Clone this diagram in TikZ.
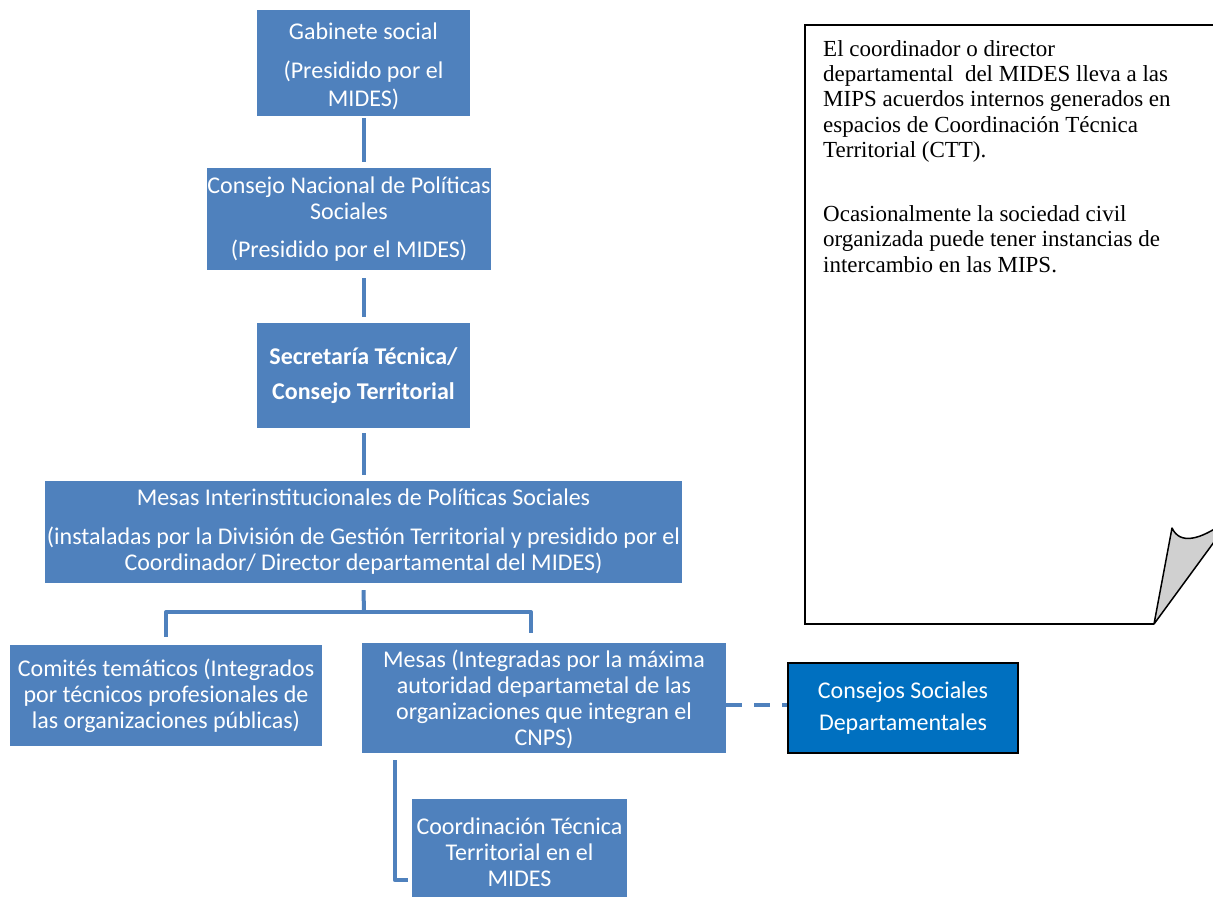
\documentclass[tikz,border=0pt]{standalone}
\usepackage{fontspec}
\newfontfamily\calfont{Carlito}
\newfontfamily\tmsfont{Liberation Serif}
\definecolor{boxblue}{HTML}{4F81BD}
\definecolor{deepblue}{HTML}{0070C0}
\definecolor{curlgray}{HTML}{D0D0D0}
\tikzset{
  bluebox/.style={fill=boxblue, text=white, align=center, inner sep=0pt,
    font=\calfont\fontsize{24}{26}\selectfont},
  conn/.style={draw=boxblue, line width=4pt},
  dashconn/.style={draw=boxblue, line width=4pt, dash pattern=on 16pt off 12pt},
}
\begin{document}
\begin{tikzpicture}[x=1pt,y=-1pt]
\path[use as bounding box] (0,0) rectangle (1213,898);
\clip (0,0) rectangle (1213,898);
\fill[white] (0,0) rectangle (1213,898);

% note box with folded corner
\draw[black, line width=2pt, fill=white] (1230,25) -- (805,25) -- (805,624) -- (1154,624);
\draw[black, line width=1.5pt, fill=curlgray, line join=round]
  (1154,624) -- (1172,528) .. controls (1180,545) and (1200,540) .. (1225,522)
  -- (1225,527) -- cycle;
\node[anchor=north west, align=left, inner sep=0pt,
      font=\tmsfont\fontsize{23}{25.3}\selectfont] (note) at (823,40)
  {El coordinador o director\\
   departamental\ \ del MIDES lleva a las\\
   MIPS acuerdos internos generados en\\
   espacios de Coordinación Técnica\\
   Territorial (CTT).\\[39pt]
   Ocasionalmente la sociedad civil\\
   organizada puede tener instancias de\\
   intercambio en las MIPS.};

% boxes
\node[bluebox, minimum width=213pt, minimum height=106pt,
      font=\calfont\fontsize{24}{28}\selectfont] (gab) at (363.5,63)
  {\rule{0pt}{24pt}Gabinete social\\[11pt](Presidido por el\\MIDES)};
\node[bluebox, minimum width=282pt, minimum height=102pt] (cnps) at (349,219)
  {Consejo Nacional de Políticas\\Sociales\\[12pt](Presidido por el MIDES)};
\node[bluebox, minimum width=213pt, minimum height=105pt,
      font=\calfont\bfseries\fontsize{24}{35}\selectfont] (sec) at (363.5,375.5)
  {Secretaría Técnica/\\Consejo Territorial};
\node[bluebox, minimum width=637pt, minimum height=102pt] (mips) at (363.5,532)
  {Mesas Interinstitucionales de Políticas Sociales\\[13pt]
   (instaladas por la División de Gestión Territorial y presidido por el\\
   Coordinador/ Director departamental del MIDES)};
\node[bluebox, minimum width=312pt, minimum height=101pt] (comites) at (166,695.5)
  {Comités temáticos (Integrados\\por técnicos profesionales de\\las organizaciones públicas)};
\node[bluebox, minimum width=364pt, minimum height=110pt] (mesas) at (544,698)
  {\rule{0pt}{21pt}Mesas (Integradas por la máxima\\autoridad departametal de las\\organizaciones que integran el\\CNPS)};
\node[bluebox, fill=deepblue, draw=black, line width=2pt, minimum width=230pt,
      minimum height=90pt, font=\calfont\fontsize{24}{32}\selectfont] (csd) at (903,708)
  {Consejos Sociales\\Departamentales};
\node[bluebox, minimum width=215pt, minimum height=98pt] (ctt) at (519.5,848)
  {\rule{0pt}{26pt}Coordinación Técnica\\Territorial en el\\MIDES};

% connectors
\draw[conn] ([yshift=-2pt]gab.south) -- ([yshift=6pt]gab.south |- cnps.north);
\draw[conn] ([yshift=-8pt]gab.south |- cnps.south) -- ([yshift=6pt]sec.north);
\draw[conn] ([yshift=-5pt]sec.south) -- ([yshift=6pt]mips.north);
\coordinate (j) at (364,612);
\draw[conn] ([yshift=-7pt]mips.south) -- (j);
\draw[conn, line join=round] ([yshift=8pt]comites.north) |- (j)
  -| ([xshift=-13pt,yshift=10pt]mesas.north);
\draw[conn, line join=round] ([xshift=33pt,yshift=-7pt]mesas.south west)
  |- ([xshift=-4pt,yshift=-32pt]ctt.west);
\draw[dashconn] ([yshift=3pt]mesas.east |- csd.west) -- ([yshift=3pt]csd.west);
\end{tikzpicture}
\end{document}
